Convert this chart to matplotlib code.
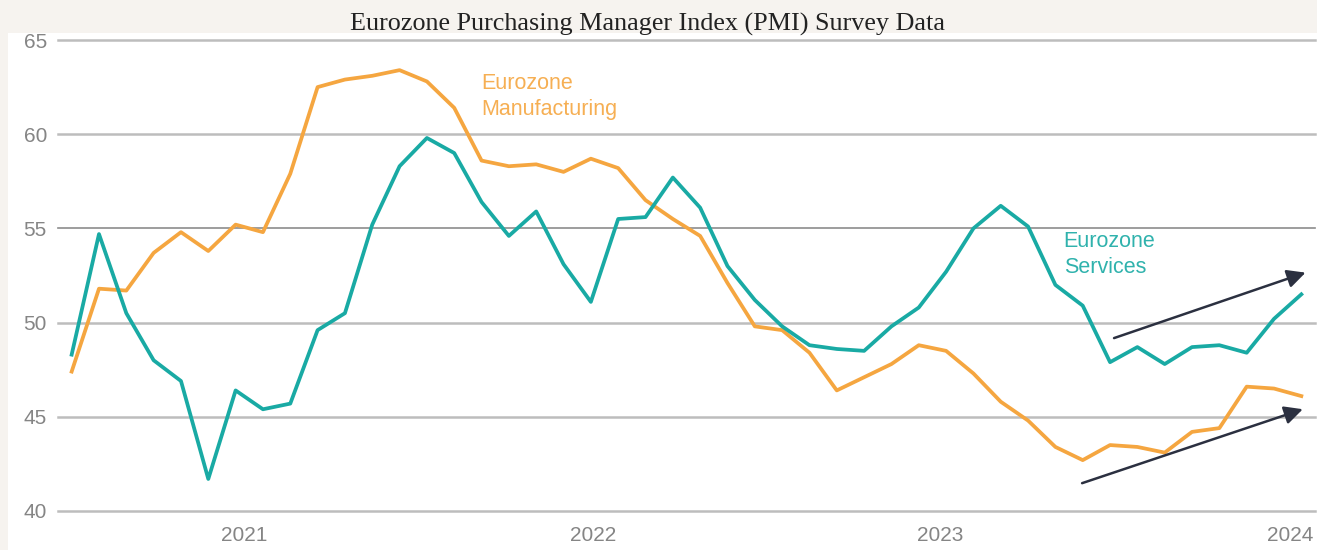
import matplotlib.pyplot as plt
from matplotlib.patches import Rectangle

# monthly PMI readings, Jun 2020 .. Mar 2024
manufacturing = [47.4, 51.8, 51.7, 53.7, 54.8, 53.8, 55.2, 54.8, 57.9, 62.5,
                 62.9, 63.1, 63.4, 62.8, 61.4, 58.6, 58.3, 58.4, 58.0, 58.7,
                 58.2, 56.5, 55.5, 54.6, 52.1, 49.8, 49.6, 48.4, 46.4, 47.1,
                 47.8, 48.8, 48.5, 47.3, 45.8, 44.8, 43.4, 42.7, 43.5, 43.4,
                 43.1, 44.2, 44.4, 46.6, 46.5, 46.1]
services = [48.3, 54.7, 50.5, 48.0, 46.9, 41.7, 46.4, 45.4, 45.7, 49.6,
            50.5, 55.2, 58.3, 59.8, 59.0, 56.4, 54.6, 55.9, 53.1, 51.1,
            55.5, 55.6, 57.7, 56.1, 53.0, 51.2, 49.8, 48.8, 48.6, 48.5,
            49.8, 50.8, 52.7, 55.0, 56.2, 55.1, 52.0, 50.9, 47.9, 48.7,
            47.8, 48.7, 48.8, 48.4, 50.2, 51.5]
year_labels = ["2021", "2022", "2023", "2024"]
year_pos = [6.3, 19.1, 31.8, 44.6]
y_ticks = [40, 45, 50, 55, 60, 65]

orange = "#f5a640"
teal = "#19aaa4"
navy = "#2b3040"
beige = "#f6f3ef"

fig = plt.figure(figsize=(13.17, 5.5), dpi=100, facecolor=beige)
fig.patches.append(Rectangle((8 / 1317, 0), 1, (550 - 33) / 550,
                             transform=fig.transFigure, facecolor="white",
                             edgecolor="none", zorder=-5))
ax = fig.add_axes([58 / 1317, 39 / 550, (1315 - 58) / 1317, (511 - 40) / 550])
ax.set_facecolor("none")

x = range(len(manufacturing))
ax.plot(x, manufacturing, color=orange, lw=2.7, zorder=3)
ax.plot(x, services, color=teal, lw=2.7, zorder=4)

ax.set_xlim(-0.5, 45.5)
ax.set_ylim(40, 65)
ax.set_yticks(y_ticks)
ax.set_xticks(year_pos)
ax.set_xticklabels(year_labels)
for s in ax.spines.values():
    s.set_visible(False)
ax.tick_params(axis="both", length=0, labelsize=15, labelcolor="#858585")
ax.tick_params(axis="y", pad=8)
ax.tick_params(axis="x", pad=11)
for lab in ax.get_xticklabels() + ax.get_yticklabels():
    lab.set_family("Liberation Sans")

ax.grid(axis="y", color="#bdbdbd", lw=1.8)
ax.grid(axis="x", visible=False)
for val, gl in zip(y_ticks, ax.get_ygridlines()):
    if val == 55:
        gl.set_color("#8c8c8c")
        gl.set_linewidth(1.2)
    gl.set_clip_on(False)

ax.text(15.0, 63.25, "Eurozone\nManufacturing", color=orange, fontsize=15.5,
        family="Liberation Sans", va="top", ha="left", linespacing=1.3, alpha=0.9)
ax.text(36.3, 54.85, "Eurozone\nServices", color=teal, fontsize=15.5,
        family="Liberation Sans", va="top", ha="left", linespacing=1.3, alpha=0.9)

arrow = dict(arrowstyle="-|>,head_length=1.1,head_width=0.55", color=navy, lw=1.8)
ax.annotate("", xy=(45.25, 52.7), xytext=(38.05, 49.13), arrowprops=arrow)
ax.annotate("", xy=(45.15, 45.45), xytext=(36.88, 41.43), arrowprops=arrow)

fig.text(648 / 1317, 1 - 24 / 550, "Eurozone Purchasing Manager Index (PMI) Survey Data",
         ha="center", va="center", fontsize=18.8, family="Liberation Serif", color="#222222")

fig.savefig("out.png", dpi=100, facecolor=beige)
